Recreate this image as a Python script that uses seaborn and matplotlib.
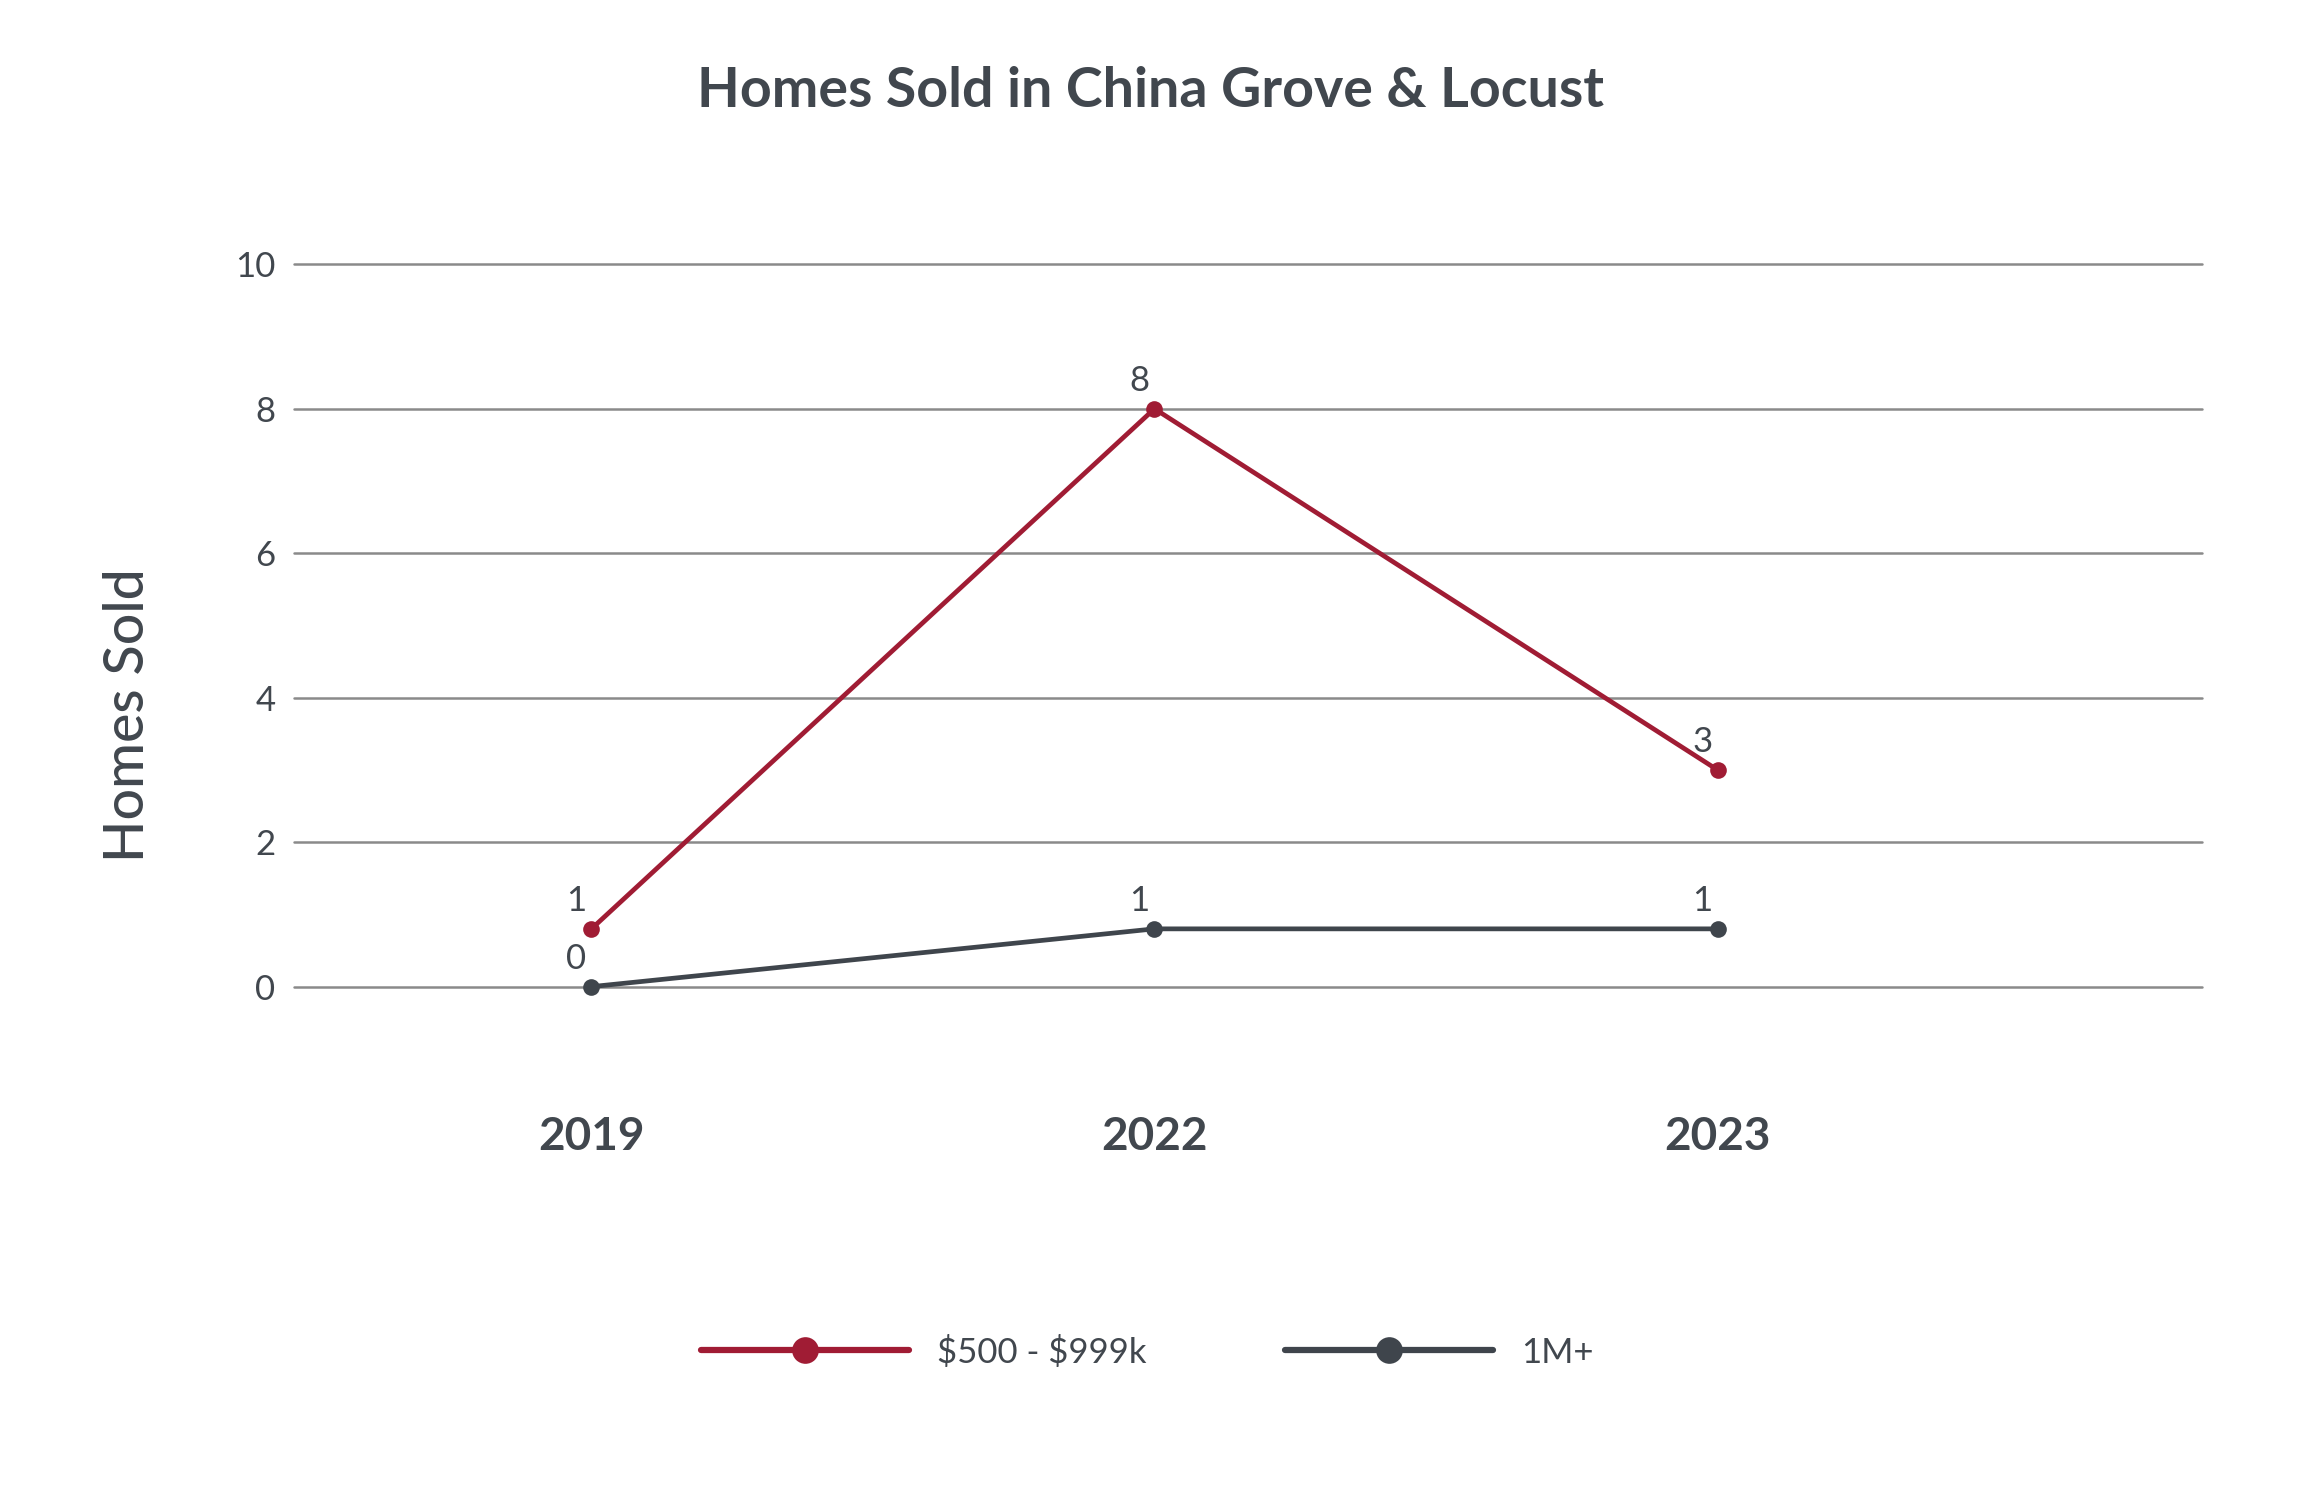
import matplotlib
matplotlib.use("Agg")
import matplotlib.pyplot as plt
import pandas as pd
import seaborn as sns

# values
years = ["2019", "2022", "2023"]
series_names = [r"\$500 - \$999k", "1M+"]
# where the points sit on the y scale in the picture
mid_points = [0.8, 8.0, 3.0]
top_points = [0.0, 0.8, 0.8]
# the numbers printed next to the points
mid_labels = ["1", "8", "3"]
top_labels = ["0", "1", "1"]
y_ticks = [0, 2, 4, 6, 8, 10]

RED = "#a01c34"
DARK = "#3f454c"
GRID = "#8a8a8a"
TEXT = "#41474e"

sns.set_theme(style="white")
plt.rcParams["font.family"] = ["Lato", "DejaVu Sans"]

df = pd.DataFrame(
    {
        "year": years * 2,
        "sold": mid_points + top_points,
        "series": [series_names[0]] * len(years) + [series_names[1]] * len(years),
    }
)

fig = plt.figure(figsize=(22.99, 14.99), dpi=100)
fig.patch.set_facecolor("white")
ax = fig.add_axes([0.1277, 0.3418, 0.830, 0.4819])

sns.lineplot(
    data=df,
    x="year",
    y="sold",
    hue="series",
    hue_order=series_names,
    palette=[RED, DARK],
    marker="o",
    markersize=12,
    markeredgewidth=0,
    linewidth=3.4,
    sort=False,
    legend=False,
    ax=ax,
    zorder=3,
)

for line in ax.lines:
    line.set_clip_on(False)

ax.set_ylim(0, 10)
ax.set_xlim(-0.529, 2.86)
ax.set_yticks(y_ticks)
ax.yaxis.grid(True, color=GRID, linewidth=1.8)
ax.xaxis.grid(False)
for gl in ax.get_ygridlines():
    gl.set_clip_on(False)
for spine in ax.spines.values():
    spine.set_visible(False)

ax.tick_params(axis="y", length=0, pad=13, labelsize=25, labelcolor=TEXT)
ax.tick_params(axis="x", length=0, pad=93, labelsize=33, labelcolor=TEXT)
for lbl in ax.get_xticklabels():
    lbl.set_fontweight("bold")

ax.set_xlabel("")
ax.set_ylabel("Homes Sold", fontsize=40, color=TEXT, fontweight="medium")
ax.yaxis.set_label_coords(-0.073, 0.376)

for i, (v, t) in enumerate(zip(mid_points, mid_labels)):
    ax.annotate(t, (i, v), xytext=(-11, 20), textcoords="offset points",
                ha="center", va="center", fontsize=25, color=TEXT)
for i, (v, t) in enumerate(zip(top_points, top_labels)):
    ax.annotate(t, (i, v), xytext=(-11, 20), textcoords="offset points",
                ha="center", va="center", fontsize=25, color=TEXT)

fig.text(0.5006, 0.9393, "Homes Sold in China Grove & Locust", ha="center",
         va="center", fontsize=40, color=TEXT, fontweight="bold")

leg = ax.legend(
    handles=ax.lines[:2],
    labels=series_names,
    loc="center",
    bbox_to_anchor=(0.499, 0.098),
    bbox_transform=fig.transFigure,
    ncol=2,
    frameon=False,
    fontsize=25,
    handlelength=6.0,
    handletextpad=0.8,
    columnspacing=4.0,
    markerscale=1.6,
)
for h in leg.legend_handles:
    h.set_linewidth(4.5)
for txt in leg.get_texts():
    txt.set_color(TEXT)

fig.savefig("out.png", dpi=100, facecolor="white")
